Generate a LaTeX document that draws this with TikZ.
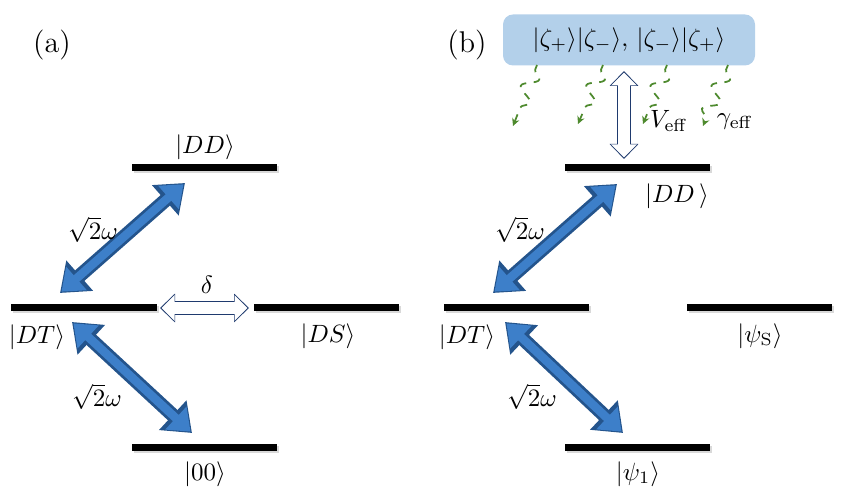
\documentclass[tikz,border=0pt]{standalone}
\usepackage{tikz}
\usetikzlibrary{arrows.meta,
	calc,
	decorations.pathmorphing,
	shadows}
\definecolor{fatface}{HTML}{3D7FC9}
\definecolor{fatedge}{HTML}{24548C}
\definecolor{hollowedge}{HTML}{1F3A6E}
\definecolor{boxblue}{HTML}{B3D0EA}
\definecolor{decaygreen}{HTML}{4E8A2E}

\begin{document}
\begin{tikzpicture}[x=0.4pt,y=-0.4pt]
        \tikzstyle{level}=[rectangle,fill=black,minimum width=58pt,minimum height=2.8pt,inner sep=0pt,
          drop shadow={shadow xshift=0.8pt,shadow yshift=-0.8pt,opacity=0.3}]
        \tikzstyle{fat}=[draw=fatface,line width=3.4pt,
          arrows={Triangle[width=12pt,length=8pt]-Triangle[width=12pt,length=8pt]},
          shorten <=0.8pt,shorten >=0.8pt,
          preaction={draw=fatedge,line width=5.6pt,shorten <=0pt,shorten >=0pt,
            arrows={Triangle[width=15.5pt,length=10.5pt]-Triangle[width=15.5pt,length=10.5pt]}}]
        \tikzstyle{hollow}=[draw=white,line width=4.8pt,
          arrows={Triangle[width=10pt,length=5.2pt]-Triangle[width=10pt,length=5.2pt]},
          shorten <=0.6pt,shorten >=0.6pt,
          preaction={draw=hollowedge,line width=5.6pt,shorten <=0pt,shorten >=0pt,
            arrows={Triangle[width=11.2pt,length=6pt]-Triangle[width=11.2pt,length=6pt]}}]
        \tikzstyle{decay}=[draw=decaygreen,dashed,line width=0.7pt,-{Stealth[length=3pt,width=3pt]},
          decorate,decoration={snake,amplitude=3pt,segment length=10pt,pre length=2pt,post length=3pt}]
        \tikzstyle{ket}=[inner sep=1pt]
        \useasboundingbox (0,0) rectangle (846,504);

        % (a)
        \node (lab_a) at (52,45) {\large (a)};
        \node[level] (DD_a) at (204,168) {};
        \node[level] (DT_a) at (84,308) {};
        \node[level] (DS_a) at (326,308) {};
        \node[level] (G_a) at (204,448) {};
        \node[ket] (ket_DD_a) at (205,147) {$|DD\rangle$};
        \node[ket] (ket_DT_a) at (37,337) {$|DT\rangle$};
        \node[ket] (ket_DS_a) at (328,336) {$|DS\rangle$};
        \node[ket] (ket_G_a) at (205,474) {$|00\rangle$};
        \coordinate (up_a1) at (60,293);
        \coordinate (up_a2) at (185,183);
        \coordinate (dn_a1) at (72,322);
        \coordinate (dn_a2) at (192,433);
        \coordinate (del_1) at (160,308);
        \coordinate (del_2) at (249,308);
        \draw[fat] (up_a1) -- (up_a2);
        \draw[fat] (dn_a1) -- (dn_a2);
        \draw[hollow] (del_1) -- (del_2);
        \node (om_a1) at (93,230) {$\sqrt{2}\omega$};
        \node (om_a2) at (97,397) {$\sqrt{2}\omega$};
        \node (del) at (207,285) {$\delta$};

        % (b)
        \node (lab_b) at (467,45) {\large (b)};
        \node[level] (DD_b) at (637,168) {};
        \node[level] (DT_b) at (516,308) {};
        \node[level] (S_b) at (759,308) {};
        \node[level] (G_b) at (637,448) {};
        \node[ket] (ket_DD_b) at (677,196) {$|DD\,\rangle$};
        \node[ket] (ket_DT_b) at (467,337) {$|DT\rangle$};
        \node[ket] (ket_S_b) at (760,336) {$|\psi_{\mathrm{S}}\rangle$};
        \node[ket] (ket_G_b) at (638,474) {$|\psi_1\rangle$};
        \node[fill=boxblue,rounded corners=4pt,minimum width=100.8pt,minimum height=20.4pt] (pair)
          at (629,40) {$|\zeta_+\rangle|\zeta_-\rangle,\,|\zeta_-\rangle|\zeta_+\rangle$};
        \coordinate (up_b1) at (493,293);
        \coordinate (up_b2) at (617,184);
        \coordinate (dn_b1) at (505,322);
        \coordinate (dn_b2) at (623,433);
        \coordinate (v_1) at (624,71);
        \coordinate (v_2) at (624,159);
        \draw[fat] (up_b1) -- (up_b2);
        \draw[fat] (dn_b1) -- (dn_b2);
        \draw[hollow] (v_1) -- (v_2);
        \node (om_b1) at (520,230) {$\sqrt{2}\omega$};
        \node (om_b2) at (532,397) {$\sqrt{2}\omega$};
        \node (veff) at (669,121) {$V_{\mathrm{eff}}$};
        \node (geff) at (735,122) {$\gamma_{\mathrm{eff}}$};
        \coordinate (w_1) at (537,65);
        \coordinate (w_2) at (603,65);
        \coordinate (w_3) at (667,65);
        \coordinate (w_4) at (728,65);
        \coordinate (e_1) at (513,126);
        \coordinate (e_2) at (578,124);
        \coordinate (e_3) at (643,124);
        \coordinate (e_4) at (703,126);
        \draw[decay] (w_1) -- (e_1);
        \draw[decay] (w_2) -- (e_2);
        \draw[decay] (w_3) -- (e_3);
        \draw[decay] (w_4) -- (e_4);
\end{tikzpicture}
\end{document}
